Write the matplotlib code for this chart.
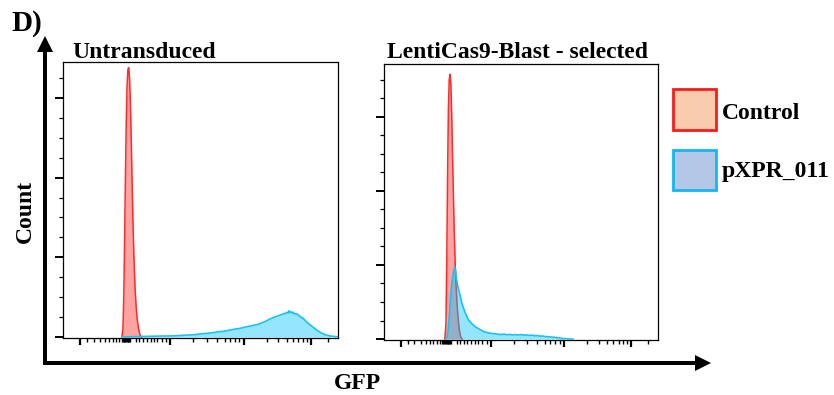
import matplotlib
matplotlib.use("Agg")
import matplotlib.pyplot as plt
from matplotlib.patches import Rectangle, FancyArrow

plt.rcParams['font.family'] = ['Liberation Serif', 'DejaVu Serif']
plt.rcParams['font.weight'] = 'bold'

# ---------------- data (GFP channel units 0-1000, count in major-tick units) -------------
panel_titles = ["Untransduced", "LentiCas9-Blast - selected"]
series_names = ["Control", "pXPR_011"]

ctrl1_x = [214, 218, 221, 224, 227, 230, 233, 236, 239, 242, 245, 248, 251, 254, 258,
           262, 266, 270, 274, 279, 285]
ctrl1_y = [0, 0.1, 0.5, 1.2, 2.0, 2.7, 3.15, 3.36, 3.38, 3.25, 2.95, 2.5, 2.0, 1.5, 1.0,
           0.62, 0.38, 0.22, 0.12, 0.04, 0]

pxpr1_x = [215, 260, 300, 350, 400, 440, 480, 500, 520, 540, 555, 570, 585, 600, 612, 625,
           637, 650, 662, 675, 687, 700, 712, 725, 738, 750, 762, 775, 787, 798, 804, 808,
           812, 815, 819, 822, 826, 829, 833, 836, 840, 845, 850, 855, 865, 872, 880,
           895, 910, 925, 940, 955, 970, 985, 1000]
pxpr1_y = [0, 0.005, 0.008, 0.012, 0.014, 0.022, 0.03, 0.04, 0.045, 0.052, 0.06, 0.068,
           0.072, 0.083, 0.09, 0.1, 0.105, 0.114, 0.125, 0.134, 0.142, 0.152, 0.162, 0.18,
           0.2, 0.222, 0.24, 0.258, 0.272, 0.285, 0.298, 0.29, 0.305, 0.31, 0.3, 0.33,
           0.31, 0.315, 0.3, 0.312, 0.298, 0.29, 0.293, 0.278, 0.25, 0.238, 0.21,
           0.162, 0.122, 0.082, 0.05, 0.028, 0.014, 0.008, 0.004]

ctrl2_x = [222, 226, 229, 232, 235, 238, 241, 244, 247, 250, 253, 256, 260, 264, 268, 272,
           276, 280, 285]
ctrl2_y = [0, 0.2, 1.0, 2.2, 3.1, 3.5, 3.57, 3.45, 3.05, 2.5, 2.0, 1.5, 1.0, 0.65, 0.4,
           0.22, 0.1, 0.03, 0]

pxpr2_x = [226, 230, 234, 238, 242, 246, 250, 254, 258, 261, 265, 270, 277, 283, 289, 296,
           303, 310, 318, 326, 336, 350, 365, 380, 395, 410, 425, 440, 450, 460, 470, 480,
           490, 500, 510, 520, 530, 540, 550, 560, 570, 580, 590, 600, 620, 640, 655, 670, 690]
pxpr2_y = [0, 0.03, 0.12, 0.3, 0.5, 0.7, 0.82, 0.92, 0.97, 0.93, 0.8, 0.7, 0.6, 0.5, 0.43,
           0.36, 0.3, 0.25, 0.22, 0.19, 0.16, 0.13, 0.1, 0.085, 0.075, 0.07, 0.062, 0.066,
           0.058, 0.063, 0.056, 0.061, 0.055, 0.062, 0.052, 0.057, 0.05, 0.053, 0.046,
           0.048, 0.04, 0.042, 0.034, 0.032, 0.025, 0.015, 0.008, 0.003, 0]

# biexponential-style axis ticks (no labels)
x_major = [62, 389, 658, 902]
x_minor = [86, 111, 135, 152, 167, 180, 193, 205, 213, 217, 220, 223, 226, 229, 232, 235,
           238, 241, 244, 265, 277, 292, 304, 319, 331, 343, 359, 375,
           474, 522, 559, 589, 607, 625, 641,
           741, 783, 813, 837, 856, 874, 886, 965]
y_major = [0, 1, 2, 3]
y_minor_step = 0.25
y_top = [3.45, 3.71]

RED_LINE = '#ff2a2a'
RED_FILL = '#ff0000'
BLUE_LINE = '#16c3f3'
BLUE_FILL = '#00c4ff'

# ---------------- figure -------------
W, H = 834, 395
fig = plt.figure(figsize=(W / 100, H / 100), dpi=100)

# pixel-coordinate overlay for annotations
ov = fig.add_axes([0, 0, 1, 1], zorder=0)
ov.set_xlim(0, W)
ov.set_ylim(H, 0)
ov.axis('off')

boxes = [(63, 62, 275, 276), (384, 64, 274, 276)]
data = [((ctrl1_x, ctrl1_y), (pxpr1_x, pxpr1_y)),
        ((ctrl2_x, ctrl2_y), (pxpr2_x, pxpr2_y))]

for i, ((l, t, w, h), ((cx, cy), (bx, by))) in enumerate(zip(boxes, data)):
    ax = fig.add_axes([l / W, 1 - (t + h) / H, w / W, h / H], zorder=2)
    ax.fill_between(cx, cy, color=RED_FILL, alpha=0.36, lw=0, zorder=2)
    ax.plot(cx, cy, color=RED_LINE, lw=1.1, zorder=3)
    ax.fill_between(bx, by, color=BLUE_FILL, alpha=0.42, lw=0, zorder=4)
    ax.plot(bx, by, color=BLUE_LINE, lw=1.2, zorder=5)
    ax.set_xlim(0, 1000)
    ax.set_ylim(-0.012, y_top[i])
    ax.set_xticks(x_major)
    ax.set_xticks(x_minor, minor=True)
    ax.set_yticks(y_major)
    ymin = [k * y_minor_step for k in range(int(y_top[i] / y_minor_step) + 1)
            if (k * y_minor_step) not in y_major]
    ax.set_yticks(ymin, minor=True)
    ax.set_xticklabels([])
    ax.set_yticklabels([])
    ax.tick_params(axis='x', which='major', direction='out', length=5, width=1.6)
    ax.tick_params(axis='x', which='minor', direction='out', length=3.2, width=1.0)
    ax.tick_params(axis='y', which='major', direction='out', length=5.5, width=1.4)
    ax.tick_params(axis='y', which='minor', direction='out', length=2.8, width=0.9)
    for s in ax.spines.values():
        s.set_linewidth(0.9)
        s.set_color('black')
    ax.patch.set_alpha(0)

# titles
fs = 17
ov.text(72, 58, panel_titles[0], fontsize=fs, fontweight='bold', ha='left', va='baseline')
ov.text(387, 58, panel_titles[1], fontsize=fs, fontweight='bold', ha='left', va='baseline')
ov.text(11, 31, "D)", fontsize=21, fontweight='bold', ha='left', va='baseline')
ov.text(25, 211, "Count", fontsize=fs, fontweight='bold', rotation=90, ha='center', va='center')
ov.text(357, 389, "GFP", fontsize=fs, fontweight='bold', ha='center', va='baseline')

# big axis arrows
ov.add_patch(FancyArrow(45, 364, 0, -296 - 16, width=4, head_width=16, head_length=16,
                        length_includes_head=False, color='black', lw=0))
ov.add_patch(FancyArrow(43, 363, 652, 0, width=4, head_width=16, head_length=16,
                        length_includes_head=False, color='black', lw=0))

# legend
ov.add_patch(Rectangle((673, 89), 43, 41, facecolor='#f8cbad', edgecolor='#ff1a1a', lw=2.0))
ov.add_patch(Rectangle((673, 150), 43, 40, facecolor='#b4c7e7', edgecolor='#14b6f2', lw=2.0))
ov.text(722, 119, series_names[0], fontsize=fs, fontweight='bold', ha='left', va='baseline')
ov.text(722, 177, series_names[1], fontsize=fs, fontweight='bold', ha='left', va='baseline')

fig.savefig('out.png', dpi=100)
